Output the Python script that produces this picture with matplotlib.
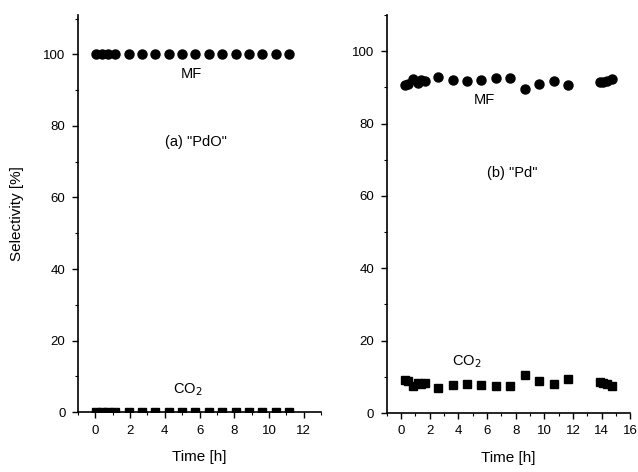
import matplotlib
matplotlib.use("Agg")
import matplotlib.pyplot as plt
from matplotlib.ticker import MultipleLocator

plt.rcParams['font.family'] = ['Liberation Sans', 'DejaVu Sans']

# (a) "PdO" - tempo [h] e seletividades [%]
tempo_a = [0.05, 0.4, 0.75, 1.15, 1.95, 2.7, 3.45, 4.25, 5.0, 5.75,
           6.55, 7.3, 8.1, 8.85, 9.6, 10.4, 11.15]
mf_a = [100] * 17
co2_a = [0] * 17

# (b) "Pd"
tempo_b = [0.25, 0.5, 0.85, 1.2, 1.4, 1.7, 2.6, 3.6, 4.6, 5.6,
           6.6, 7.6, 8.65, 9.65, 10.65, 11.65, 13.85, 14.1, 14.4, 14.7]
mf_b = [90.8, 91.0, 92.4, 91.2, 92.1, 91.7, 92.8, 92.1, 91.9, 92.1,
        92.7, 92.5, 89.5, 91.0, 91.9, 90.7, 91.5, 91.5, 91.7, 92.3]
co2_b = [9.1, 8.8, 7.6, 8.2, 7.9, 8.2, 7.0, 7.7, 8.0, 7.8,
         7.4, 7.4, 10.4, 8.9, 8.1, 9.3, 8.6, 8.4, 8.1, 7.6]

fig = plt.figure(figsize=(6.38, 4.72), dpi=100)
ax1 = fig.add_axes([0.1223, 0.127, 0.381, 0.841])
ax2 = fig.add_axes([0.606, 0.125, 0.382, 0.843])


def estilo(ax, xmax, ymax):
    ax.set_xlim(-1, xmax)
    ax.set_ylim(0, ymax)
    ax.spines['top'].set_visible(False)
    ax.spines['right'].set_visible(False)
    for s in ['left', 'bottom']:
        ax.spines[s].set_linewidth(1.2)
    ax.xaxis.set_major_locator(MultipleLocator(2))
    ax.xaxis.set_minor_locator(MultipleLocator(1))
    ax.yaxis.set_major_locator(MultipleLocator(20))
    ax.yaxis.set_minor_locator(MultipleLocator(10))
    ax.tick_params(which='major', direction='out', length=4.5, width=1,
                   labelsize=9.5, pad=4.5)
    ax.tick_params(which='minor', direction='out', length=2.5, width=0.8)
    ax.set_xlabel("Time [h]", fontsize=11, labelpad=10)


# ---------------------- (a) ----------------------
ax1.plot(tempo_a, mf_a, 'o', color='black', markersize=6.5)
ax1.plot(tempo_a, co2_a, 's', color='black', markersize=5.5)
estilo(ax1, 13, 111)
ax1.set_xticks([0, 2, 4, 6, 8, 10, 12])
ax1.set_ylabel("Selectivity [%]", fontsize=11, labelpad=14)
ax1.text(5.5, 94.4, "MF", ha='center', va='center', fontsize=10.5)
ax1.text(5.8, 75.5, '(a) "PdO"', ha='center', va='center', fontsize=10.5)
ax1.text(5.3, 6.3, r"CO$_2$", ha='center', va='center', fontsize=10.5)

# ---------------------- (b) ----------------------
ax2.plot(tempo_b, mf_b, 'o', color='black', markersize=6.5)
ax2.plot(tempo_b, co2_b, 's', color='black', markersize=5.5)
estilo(ax2, 16, 110)
ax2.text(5.8, 86.6, "MF", ha='center', va='center', fontsize=10.5)
ax2.text(7.75, 66.3, '(b) "Pd"', ha='center', va='center', fontsize=10.5)
ax2.text(4.6, 14.3, r"CO$_2$", ha='center', va='center', fontsize=10.5)

plt.savefig("out.png", dpi=100)
plt.close()
